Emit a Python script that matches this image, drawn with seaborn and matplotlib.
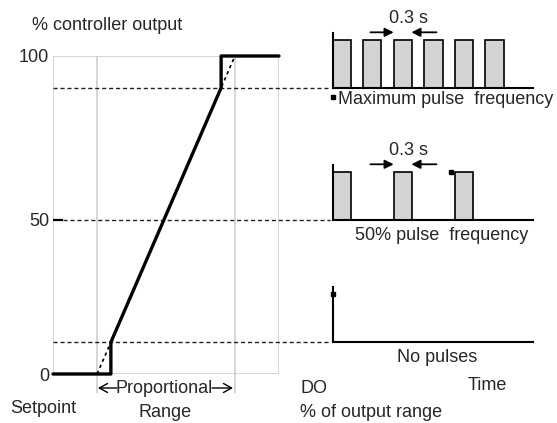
import numpy as np
import pandas as pd
import matplotlib
matplotlib.use('Agg')
import matplotlib.pyplot as plt
import seaborn as sns

# controller characteristic (x: % of proportional range, y: % controller output)
curve_x = [-32, 10, 10, 90, 90, 132]
curve_y = [0, 0, 10, 90, 100, 100]
ideal_x = [0, 100]
ideal_y = [0, 100]
grid_x = [-32, 0, 100, 132]
band_edges = [0, 100]
ytick_pos = [0, 48.5, 100]      # the "50" line sits a little low in the drawing
ytick_lab = ['0', '50', '100']
levels = [90, 48.5, 10]         # dashed levels feeding the three pulse trains

# pulse trains (time in s)
pulse_width = 0.3
max_starts = [0, 0.5, 1.0, 1.5, 2.0, 2.5]
half_starts = [0, 1.0, 2.0]
no_starts = []
t_end = 3.27
arrow_in = [0.62, 1.0]
arrow_out = [1.70, 1.29]

W, H = 557, 423


def px(x, y):
    return x / W, 1 - y / H


sns.set_style('white')
plt.rcParams['font.family'] = ['Liberation Sans', 'DejaVu Sans']
plt.rcParams['font.size'] = 13

fig = plt.figure(figsize=(W / 100, H / 100), dpi=100)
ax = fig.add_axes([53 / W, (H - 374) / H, 226 / W, 318 / H])
ax.set_xlim(-32, 132)
ax.set_ylim(0, 100)
for s in ax.spines.values():
    s.set_visible(False)
ax.set_xticks([])
ax.set_yticks(ytick_pos, ytick_lab)
ax.tick_params(axis='y', length=0, pad=2.7, labelsize=13)

grey = '#cccccc'
ax.vlines(grid_x, 0, 100, color=grey, lw=1.1, zorder=1)
ax.vlines(band_edges, -6, 0, color=grey, lw=1.1, zorder=1, clip_on=False)
ax.hlines([0, 100], -32, 132, color=grey, lw=1.1, zorder=1)

# dashed levels
ax.hlines([levels[0], levels[2]], -32, 169, color='#222222', lw=1.0,
          linestyles=(0, (3, 2)), clip_on=False, zorder=2)
ax.hlines(levels[1], -25, 169, color='#222222', lw=1.0,
          linestyles=(0, (3, 2)), clip_on=False, zorder=2)
ax.hlines(levels[1], -32, -25, color='black', lw=1.6, clip_on=False, zorder=3)

ideal = pd.DataFrame({'x': ideal_x, 'y': ideal_y})
sns.lineplot(data=ideal, x='x', y='y', ax=ax, color='black', lw=1.2,
             linestyle=(0, (2, 2)), estimator=None, sort=False, zorder=3)
curve = pd.DataFrame({'x': curve_x, 'y': curve_y})
sns.lineplot(data=curve, x='x', y='y', ax=ax, color='black', lw=2.4,
             estimator=None, sort=False, zorder=4, clip_on=False)
ax.set_xlabel('')
ax.set_ylabel('')


def pulse_axes(level, starts, arrows, dot):
    fx, fy = fig.transFigure.inverted().transform(ax.transData.transform((0, level)))
    pax = fig.add_axes([332.5 / W, fy, 200 / W, 55 / H])
    pax.set_xlim(0, t_end)
    pax.set_ylim(0, 1.15)
    pax.set_facecolor('none')
    for k in ['top', 'right']:
        pax.spines[k].set_visible(False)
    for k in ['left', 'bottom']:
        pax.spines[k].set_color('black')
        pax.spines[k].set_linewidth(1.5)
    pax.set_xticks([])
    pax.set_yticks([])
    if starts:
        pax.bar(starts, 1, width=pulse_width, align='edge', color='#d3d3d3',
                edgecolor='black', lw=1.2, zorder=2)
    if arrows:
        for tail, head in [(arrow_in[0], arrow_in[1]), (arrow_out[0], arrow_out[1])]:
            pax.annotate('', xy=(head, 1.16), xytext=(tail, 1.16),
                         arrowprops=dict(arrowstyle='-|>', color='black', lw=1.3,
                                         mutation_scale=13, shrinkA=0, shrinkB=0),
                         annotation_clip=False)
        pax.text(1.24, 1.44, '0.3 s', ha='center', va='center', fontsize=13)
    pax.plot([dot[0]], [dot[1]], marker='s', ms=2.2, color='black', clip_on=False)
    return pax


pulse_axes(levels[0], max_starts, True, (0.01, -0.2))
pulse_axes(levels[1], half_starts, True, (1.94, 1.0))
pulse_axes(levels[2], no_starts, False, (0.01, 1.01))

texts = [
    (32, 25, '% controller output', 'left'),
    (43, 408, 'Setpoint', 'center'),
    (164.5, 388, 'Proportional', 'center'),
    (165, 412, 'Range', 'center'),
    (300, 388, 'DO', 'left'),
    (300, 412, '% of output range', 'left'),
    (487, 385, 'Time', 'center'),
    (437, 357, 'No pulses', 'center'),
    (338, 100, 'Maximum pulse  frequency', 'left'),
    (355, 235, '50% pulse  frequency', 'left'),
]
for x, y, s, ha in texts:
    fig.text(*px(x, y), s, ha=ha, va='center', fontsize=13)

# open arrows either side of "Proportional"
for tail, head in [(117, 98), (212, 233)]:
    ax.annotate('', xy=(head, H - 388), xytext=(tail, H - 388),
                xycoords='figure pixels', textcoords='figure pixels',
                arrowprops=dict(arrowstyle='->,head_length=0.45,head_width=0.25',
                                color='black', lw=1.0, shrinkA=0, shrinkB=0,
                                mutation_scale=13),
                annotation_clip=False)

fig.savefig('out.png', dpi=100)
